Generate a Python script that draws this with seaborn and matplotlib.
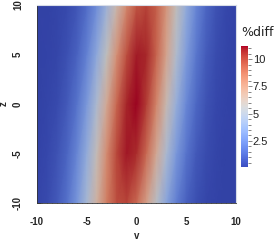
import matplotlib
matplotlib.use("Agg")
import matplotlib.pyplot as plt
import numpy as np
import seaborn as sns
from matplotlib.cm import ScalarMappable
from matplotlib.colors import ListedColormap, Normalize
from matplotlib.ticker import MultipleLocator

# sample grid (v across, z up)
v = [-10, -9, -8, -7, -6, -5, -4, -3, -2, -1, 0, 1, 2, 3, 4, 5, 6, 7, 8, 9, 10]
z = [-10, -5, 0, 5, 10]

pct_z_m10 = [0.21, 0.40, 0.80, 1.56, 2.81, 4.57, 6.64, 8.60, 9.91, 10.15, 9.23,
             7.47, 5.38, 3.46, 2.00, 1.05, 0.52, 0.27, 0.16, 0.12, 0.10]
pct_z_m5 = [0.17, 0.29, 0.58, 1.17, 2.21, 3.82, 5.91, 8.17, 10.03, 10.96, 10.64,
            9.18, 7.05, 4.82, 2.95, 1.62, 0.82, 0.41, 0.21, 0.14, 0.11]
pct_z_0 = [0.14, 0.21, 0.40, 0.81, 1.60, 2.92, 4.80, 7.06, 9.25, 10.79, 11.18,
           10.29, 8.42, 6.13, 3.98, 2.32, 1.23, 0.61, 0.30, 0.17, 0.12]
pct_z_5 = [0.11, 0.16, 0.27, 0.54, 1.09, 2.08, 3.63, 5.69, 7.95, 9.88, 10.92,
           10.73, 9.37, 7.28, 5.03, 3.11, 1.73, 0.88, 0.43, 0.23, 0.14]
pct_z_10 = [0.11, 0.13, 0.19, 0.35, 0.69, 1.37, 2.52, 4.19, 6.22, 8.25, 9.72,
            10.19, 9.50, 7.87, 5.80, 3.81, 2.25, 1.20, 0.60, 0.30, 0.17]

cbar_ticks = [2.5, 5, 7.5, 10]
cbar_labels = ["2.5", "5", "7.5", "10"]
vmin, vmax = 0.1, 11.2

sns.set_theme(style="white")
plt.rcParams["font.family"] = ["Liberation Sans", "DejaVu Sans"]
plt.rcParams["axes.unicode_minus"] = False

pct = np.array([pct_z_m10, pct_z_m5, pct_z_0, pct_z_5, pct_z_10])

base = plt.get_cmap("coolwarm")
# the rendered surface is a bit darker than the legend (lighting)
rgb = base(np.linspace(0, 1, 256))
rgb[:, :3] *= 0.86
shaded = ListedColormap(rgb)

fig = plt.figure(figsize=(2.75, 2.41), dpi=100)
ax = fig.add_axes([0.1345, 0.158, 0.7236, 0.821])
ax.pcolormesh(v, z, pct, shading="gouraud", cmap=shaded, vmin=vmin, vmax=vmax)
ax.set_xlim(-10, 10); ax.set_ylim(-10, 10)

ax.xaxis.set_major_locator(MultipleLocator(5))
ax.yaxis.set_major_locator(MultipleLocator(5))
ax.xaxis.set_minor_locator(MultipleLocator(0.5))
ax.yaxis.set_minor_locator(MultipleLocator(0.5))
ax.tick_params(which="both", direction="in", color="#333333",
               bottom=True, left=True, top=False, right=False)
ax.tick_params(which="major", length=3, width=0.6, pad=10, labelsize=7)
ax.tick_params(which="minor", length=1.5, width=0.5)
for lab in ax.get_xticklabels() + ax.get_yticklabels():
    lab.set_fontweight("bold")
for lab in ax.get_yticklabels():
    lab.set_rotation(90)
    lab.set_va("center")
ax.set_xlabel("v", fontsize=7, fontweight="bold", labelpad=3)
ax.set_ylabel("z", fontsize=7, fontweight="bold", labelpad=3)
for side in ("left", "bottom"):
    ax.spines[side].set_color("#333333"); ax.spines[side].set_linewidth(0.6)
for side in ("top", "right"):
    ax.spines[side].set_color("#d8dde8"); ax.spines[side].set_linewidth(0.8)

cax = fig.add_axes([0.876, 0.307, 0.0255, 0.502])
cb = fig.colorbar(ScalarMappable(Normalize(vmin, vmax), cmap=base), cax=cax)
cb.outline.set_visible(False)
cb.set_ticks(cbar_ticks, labels=cbar_labels)
cax.yaxis.set_minor_locator(MultipleLocator(0.5))
cax.tick_params(which="both", direction="out", color="#555555", pad=0.5,
                labelsize=8, labelcolor="#222222")
cax.tick_params(which="major", length=3, width=0.5)
cax.tick_params(which="minor", length=2, width=0.5)
fig.text(0.876, 0.865, "%diff", fontsize=9, family="DejaVu Sans",
         color="#222222", ha="left", va="center")

fig.savefig("out.png", dpi=100)
